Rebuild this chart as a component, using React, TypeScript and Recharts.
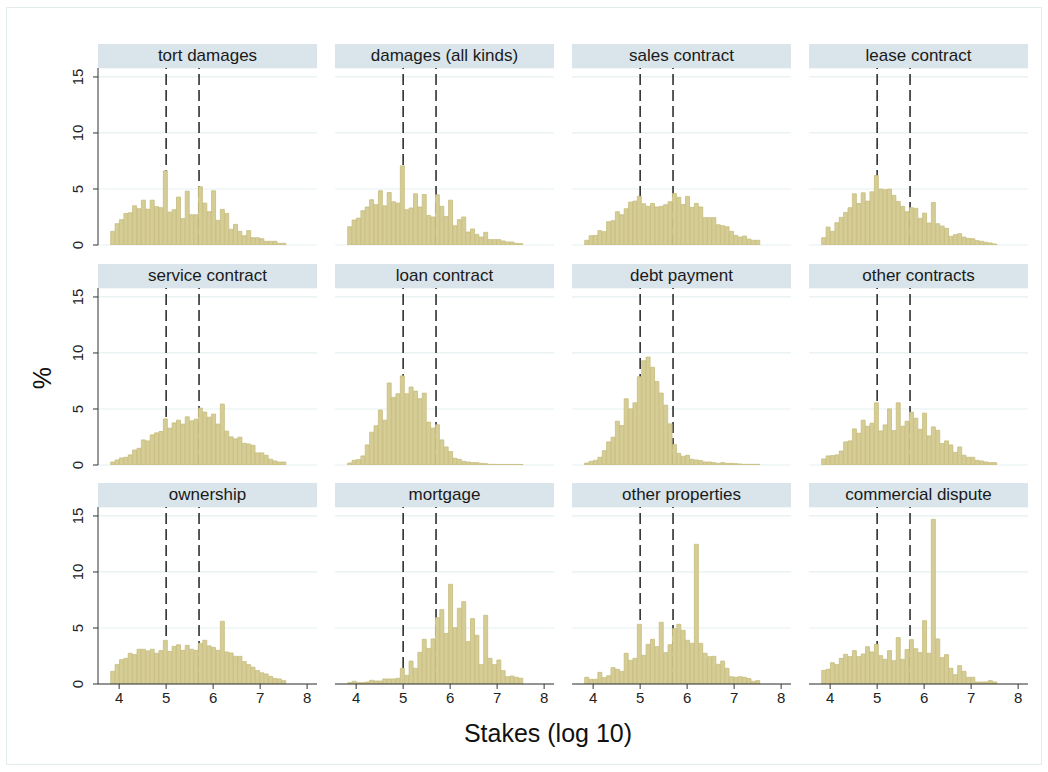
import React from 'react';
import { ComposedChart, Bar, XAxis, YAxis, CartesianGrid, ReferenceLine } from 'recharts';

// bin midpoints of the log10 stakes (40 bins shared by every panel)
const binMids = [
  3.867, 3.96, 4.053, 4.147, 4.24, 4.333, 4.427, 4.52, 4.613, 4.707,
  4.8, 4.893, 4.987, 5.08, 5.173, 5.267, 5.36, 5.453, 5.547, 5.64,
  5.733, 5.827, 5.92, 6.013, 6.107, 6.2, 6.293, 6.387, 6.48, 6.573,
  6.667, 6.76, 6.853, 6.947, 7.04, 7.133, 7.227, 7.32, 7.413, 7.507,
];

const xTicks = [4, 5, 6, 7, 8];
const yTicks = [0, 5, 10, 15];
const markers = [5, 5.7];

const tortDamages = [
  1.22, 1.9, 2.26, 2.82, 2.88, 3.5, 3.24, 4.0, 3.2, 4.0,
  3.42, 3.33, 6.62, 2.94, 3.15, 4.28, 2.35, 4.81, 2.7, 2.7,
  5.2, 3.74, 2.97, 4.84, 2.2, 3.18, 2.82, 1.4, 1.84, 1.22,
  0.83, 1.28, 0.65, 0.65, 0.56, 0.33, 0.33, 0.33, 0.15, 0.15,
];
const damagesAll = [
  1.63, 2.23, 2.4, 3.06, 3.39, 4.04, 3.6, 4.84, 3.5, 4.69,
  3.86, 3.74, 7.07, 3.15, 3.3, 4.57, 3.39, 4.51, 2.64, 2.5,
  4.48, 3.45, 2.55, 4.0, 1.72, 2.26, 2.5, 1.16, 1.43, 0.95,
  0.71, 1.13, 0.48, 0.48, 0.48, 0.36, 0.27, 0.27, 0.15, 0.12,
];
const salesContract = [
  0.42, 0.83, 0.86, 1.28, 1.19, 2.08, 2.17, 2.97, 2.7, 3.24,
  3.83, 3.92, 4.34, 3.68, 3.45, 3.71, 3.39, 3.45, 3.6, 3.86,
  4.6, 4.25, 3.62, 4.34, 3.36, 3.71, 3.39, 2.44, 2.44, 2.44,
  1.81, 1.72, 1.63, 1.22, 0.86, 0.71, 0.8, 0.53, 0.42, 0.42,
];
const leaseContract = [
  0.65, 1.6, 1.22, 1.99, 2.47, 2.91, 3.33, 4.57, 3.71, 4.66,
  3.92, 4.75, 6.21, 4.99, 4.93, 4.99, 4.43, 3.89, 3.45, 2.97,
  3.33, 3.27, 2.38, 2.85, 1.96, 3.8, 1.9, 1.69, 1.49, 0.77,
  0.92, 1.01, 0.71, 0.59, 0.56, 0.39, 0.33, 0.24, 0.18, 0.09,
];
const serviceContract = [
  0.27, 0.45, 0.63, 0.69, 0.9, 1.34, 1.49, 2.24, 2.15, 2.69,
  2.87, 2.99, 4.12, 3.29, 3.76, 4.0, 3.65, 4.3, 3.94, 4.09,
  5.08, 4.72, 4.27, 4.54, 3.65, 5.44, 3.02, 2.51, 2.33, 2.48,
  1.94, 1.88, 1.76, 1.08, 1.08, 0.87, 0.51, 0.36, 0.27, 0.27,
];
const loanContract = [
  0.18, 0.42, 0.48, 0.81, 1.79, 2.93, 3.5, 4.9, 4.0, 7.32,
  6.04, 6.36, 7.95, 6.36, 6.96, 6.6, 5.92, 6.42, 3.82, 3.29,
  3.59, 2.24, 1.61, 1.2, 0.6, 0.51, 0.33, 0.27, 0.21, 0.21,
  0.15, 0.12, 0.06, 0.06, 0.05, 0.05, 0.05, 0.05, 0.05, 0.05,
];
const debtPayment = [
  0.18, 0.33, 0.42, 0.69, 1.28, 2.06, 2.48, 3.91, 3.52, 5.91,
  5.01, 5.55, 7.88, 9.31, 9.64, 8.72, 7.46, 6.42, 5.34, 3.67,
  1.82, 1.04, 0.78, 0.87, 0.51, 0.45, 0.39, 0.27, 0.27, 0.21,
  0.15, 0.21, 0.15, 0.15, 0.12, 0.09, 0.06, 0.06, 0.06, 0.06,
];
const otherContracts = [
  0.54, 0.81, 0.84, 0.9, 1.25, 2.06, 2.15, 3.22, 2.84, 4.0,
  3.46, 3.73, 5.55, 3.04, 3.58, 5.01, 3.07, 5.55, 3.46, 3.91,
  4.72, 4.18, 3.19, 4.63, 2.6, 3.4, 3.1, 1.91, 2.15, 1.79,
  1.13, 1.61, 0.87, 0.69, 0.69, 0.42, 0.36, 0.27, 0.21, 0.21,
];
const ownership = [
  1.13, 1.73, 2.17, 2.29, 2.74, 2.62, 3.1, 3.1, 2.95, 3.1,
  2.74, 2.98, 3.9, 2.9, 3.36, 3.5, 3.0, 3.45, 3.1, 3.0,
  3.63, 3.9, 3.4, 3.27, 3.0, 5.6, 2.86, 2.77, 2.47, 2.47,
  2.0, 1.73, 1.5, 1.2, 1.0, 0.9, 0.68, 0.5, 0.45, 0.3,
];
const mortgage = [
  0.12, 0.24, 0.12, 0.12, 0.18, 0.33, 0.27, 0.27, 0.45, 0.45,
  0.45, 0.51, 1.4, 0.77, 2.05, 1.4, 2.83, 3.99, 3.18, 4.02,
  5.92, 6.64, 4.52, 8.9, 5.03, 6.76, 7.35, 3.78, 5.83, 4.35,
  1.73, 6.13, 2.29, 1.73, 2.14, 1.19, 0.65, 0.71, 0.6, 0.51,
];
const otherProperties = [
  0.6, 0.42, 0.42, 1.04, 0.57, 0.74, 1.46, 1.31, 1.13, 2.74,
  2.11, 2.29, 5.33, 2.56, 3.54, 3.99, 3.33, 5.51, 2.8, 3.51,
  4.94, 5.33, 4.79, 3.9, 3.63, 12.47, 3.63, 2.74, 2.44, 2.47,
  1.76, 2.05, 1.4, 0.65, 0.6, 0.65, 0.6, 0.48, 0.24, 0.3,
];
const commercialDispute = [
  1.22, 1.31, 1.9, 1.73, 2.29, 2.65, 2.44, 2.98, 2.44, 2.68,
  3.33, 2.86, 3.54, 2.53, 2.2, 2.98, 2.08, 4.14, 2.2, 3.07,
  3.96, 3.15, 2.8, 5.65, 2.74, 14.7, 4.02, 2.35, 2.62, 1.4,
  0.83, 1.64, 1.13, 0.6, 0.6, 0.18, 0.18, 0.18, 0.3, 0.18,
];

const panelTitles = [
  'tort damages', 'damages (all kinds)', 'sales contract', 'lease contract',
  'service contract', 'loan contract', 'debt payment', 'other contracts',
  'ownership', 'mortgage', 'other properties', 'commercial dispute',
];
const panelValues = [
  tortDamages, damagesAll, salesContract, leaseContract,
  serviceContract, loanContract, debtPayment, otherContracts,
  ownership, mortgage, otherProperties, commercialDispute,
];

const FONT = "Arial, 'Liberation Sans', Helvetica, sans-serif";
const PLOT_LEFT = 98;
const PITCH_X = 237;
const HEADER_TOP = 44;
const PITCH_Y = 219.5;
const PLOT_W = 219;
const HEADER_H = 24;
const PLOT_H = 177;
const Y_W = 40;
const X_H = 34;
const PAD_B = 8; // room for the rotated "0" label when there is no x axis

const BAR_FILL = '#d5cd95';
const BAR_STROKE = '#c6bd7d';

const YTick = (props: any) => {
  const { x, y, payload } = props;
  const tx = x - 8;
  return (
    <text
      x={tx}
      y={y}
      transform={`rotate(-90, ${tx}, ${y})`}
      textAnchor="middle"
      fontSize={15}
      fontFamily={FONT}
      fill="#222"
    >
      {payload.value}
    </text>
  );
};

const Panel = ({ index }: { index: number }) => {
  const col = index % 4;
  const row = Math.floor(index / 4);
  const left = PLOT_LEFT + col * PITCH_X;
  const top = HEADER_TOP + row * PITCH_Y;
  const showY = col === 0;
  const showX = row === 2;
  const yw = showY ? Y_W : 0;
  const xh = showX ? X_H : 0;
  const padB = showX ? 0 : PAD_B;
  const values = panelValues[index];
  const data = binMids.map((x, i) => ({ x, pct: values[i] }));

  return (
    <>
      <div
        style={{
          position: 'absolute',
          left,
          top,
          width: PLOT_W,
          height: HEADER_H,
          lineHeight: `${HEADER_H}px`,
          background: '#d9e5ea',
          textAlign: 'center',
          fontSize: 17,
          fontFamily: FONT,
          color: '#1a1a1a',
        }}
      >
        {panelTitles[index]}
      </div>
      <div style={{ position: 'absolute', left: left - yw, top: top + HEADER_H }}>
        <ComposedChart
          width={PLOT_W + yw}
          height={PLOT_H + xh + padB}
          data={data}
          margin={{ top: 0, right: 0, bottom: padB, left: 0 }}
          barCategoryGap={0}
          barGap={0}
          style={{ overflow: 'visible' }}
        >
          <CartesianGrid vertical={false} stroke="#e6eff0" strokeWidth={1.2} />
          <XAxis
            type="number"
            dataKey="x"
            domain={[3.55, 8.21]}
            ticks={xTicks}
            interval={0}
            allowDataOverflow
            hide={!showX}
            height={xh}
            tickSize={5}
            tickMargin={3}
            stroke="#333"
            tick={{ fill: '#222', fontSize: 15, fontFamily: FONT }}
          />
          <YAxis
            type="number"
            domain={[0, 15.8]}
            ticks={yTicks}
            interval={0}
            allowDataOverflow
            hide={!showY}
            width={yw}
            tickSize={5}
            tickMargin={2}
            stroke="#333"
            tick={<YTick />}
          />
          {markers.map((m) => (
            <ReferenceLine
              key={m}
              x={m}
              stroke="#222"
              strokeWidth={1.5}
              strokeDasharray="11 5"
              zIndex={100}
            />
          ))}
          <Bar
            dataKey="pct"
            fill={BAR_FILL}
            stroke={BAR_STROKE}
            strokeWidth={0.8}
            isAnimationActive={false}
          />
        </ComposedChart>
      </div>
    </>
  );
};

export default function App() {
  return (
    <div
      style={{
        position: 'absolute',
        left: 0,
        top: 0,
        width: 1048,
        height: 772,
        background: '#fff',
        fontFamily: FONT,
      }}
    >
      <div
        style={{
          position: 'absolute',
          left: 6,
          top: 7,
          width: 1036,
          height: 758,
          border: '1px solid #e4ecec',
          boxSizing: 'border-box',
        }}
      />
      {panelTitles.map((_, i) => (
        <Panel key={i} index={i} />
      ))}
      <div
        style={{
          position: 'absolute',
          left: 42 - 20,
          top: 378 - 15,
          width: 40,
          height: 30,
          lineHeight: '30px',
          textAlign: 'center',
          fontSize: 25,
          color: '#111',
          transform: 'rotate(-90deg)',
        }}
      >
        %
      </div>
      <div
        style={{
          position: 'absolute',
          left: 548 - 150,
          top: 733 - 16,
          width: 300,
          height: 32,
          lineHeight: '32px',
          textAlign: 'center',
          fontSize: 25,
          color: '#111',
        }}
      >
        Stakes (log 10)
      </div>
    </div>
  );
}
